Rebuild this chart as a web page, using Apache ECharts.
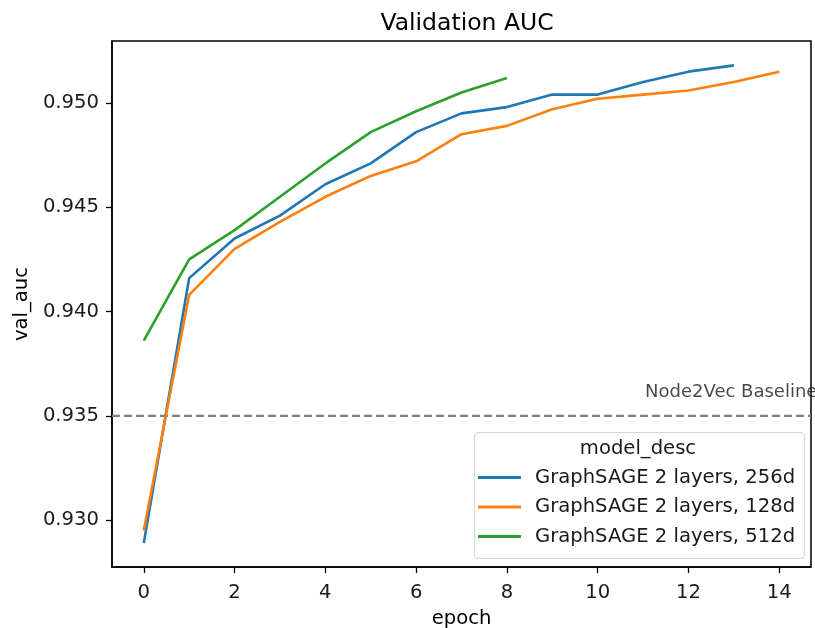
<!DOCTYPE html>
<html>
<head>
<meta charset="utf-8">
<script src="https://cdn.jsdelivr.net/npm/echarts@6/dist/echarts.min.js"></script>
<style>
  html, body { margin: 0; padding: 0; background: #fff; }
  #chart { width: 815px; height: 628px; }
</style>
</head>
<body>
<div id="chart"></div>
<script>
// Validation AUC per epoch for three GraphSAGE embedding sizes
const epochs = [0, 1, 2, 3, 4, 5, 6, 7, 8, 9, 10, 11, 12, 13, 14];
const auc256 = [0.9289, 0.9416, 0.9435, 0.9446, 0.9461, 0.9471, 0.9486, 0.9495, 0.9498, 0.9504, 0.9504, 0.9510, 0.9515, 0.9518];
const auc128 = [0.9295, 0.9408, 0.9430, 0.9443, 0.9455, 0.9465, 0.9472, 0.9485, 0.9489, 0.9497, 0.9502, 0.9504, 0.9506, 0.9510, 0.9515];
const auc512 = [0.9386, 0.9425, 0.9439, 0.9455, 0.9471, 0.9486, 0.9496, 0.9505, 0.9512];
const seriesNames = ['GraphSAGE 2 layers, 256d', 'GraphSAGE 2 layers, 128d', 'GraphSAGE 2 layers, 512d'];
const xTicks = [0, 2, 4, 6, 8, 10, 12, 14];
const yTicks = [0.930, 0.935, 0.940, 0.945, 0.950];
const baselineAuc = 0.935;
const baselineLabel = 'Node2Vec Baseline';
const baselineLabelEpoch = 11;
const legendTitle = 'model_desc';

const FONT = 'DejaVu Sans';
const FS = 19.6;
const colors = ['#1f77b4', '#ff7f0e', '#2ca02c'];

function pairs(values) {
  return values.map((v, i) => [epochs[i], v]);
}

const chart = echarts.init(document.getElementById('chart'), null, { renderer: 'canvas' });

const lineSeries = [auc256, auc128, auc512].map((vals, i) => ({
  name: seriesNames[i],
  type: 'line',
  data: pairs(vals),
  showSymbol: false,
  symbol: 'none',
  lineStyle: { color: colors[i], width: 2.6 },
  itemStyle: { color: colors[i] },
  z: 3
}));

chart.setOption({
  animation: false,
  backgroundColor: '#fff',
  textStyle: { fontFamily: FONT },
  title: {
    text: 'Validation AUC',
    left: 462,
    top: 7,
    textAlign: 'center',
    textStyle: { fontFamily: FONT, fontSize: 23.5, fontWeight: 'normal', color: '#000' }
  },
  grid: {
    left: 112, right: 4, top: 41, bottom: 61,
    show: true, borderColor: '#000', borderWidth: 1.5,
    containLabel: false,
    outerBoundsMode: 'none'
  },
  xAxis: {
    type: 'value',
    min: -0.7, max: 14.7,
    name: 'epoch',
    nameLocation: 'middle',
    nameGap: 42,
    nameTextStyle: { fontFamily: FONT, fontSize: FS, color: '#000' },
    axisLine: { show: true, onZero: false, lineStyle: { color: '#000', width: 1.5 } },
    axisTick: { show: true, length: 6, lineStyle: { color: '#000', width: 1.3 }, customValues: xTicks },
    axisLabel: { customValues: xTicks, margin: 16, fontFamily: FONT, fontSize: FS, color: '#1a1a1a' },
    splitLine: { show: false }
  },
  yAxis: {
    type: 'value',
    min: 0.92775, max: 0.95297,
    name: 'val_auc',
    nameLocation: 'middle',
    nameRotate: 90,
    nameGap: 73,
    nameTextStyle: { fontFamily: FONT, fontSize: FS, color: '#000' },
    axisLine: { show: true, onZero: false, lineStyle: { color: '#000', width: 1.5 } },
    axisTick: { show: true, length: 6, lineStyle: { color: '#000', width: 1.3 }, customValues: yTicks },
    axisLabel: {
      customValues: yTicks, margin: 13, fontFamily: FONT, fontSize: FS, color: '#1a1a1a',
      formatter: v => v.toFixed(3)
    },
    splitLine: { show: false }
  },
  legend: {
    data: seriesNames,
    orient: 'vertical',
    left: 478,
    top: 467,
    icon: 'rect',
    itemWidth: 43,
    itemHeight: 3,
    itemGap: 8.5,
    padding: 0,
    textStyle: { fontFamily: FONT, fontSize: FS, color: '#1a1a1a', lineHeight: 21, padding: [0, 0, 0, 9] },
    z: 6
  },
  graphic: [
    {
      type: 'rect',
      shape: { x: 474.5, y: 432.5, width: 330, height: 126, r: 4 },
      style: { fill: 'rgba(255,255,255,0.8)', stroke: '#d6d6d6', lineWidth: 1.2 },
      z: 5
    },
    {
      type: 'text',
      x: 638, y: 449,
      style: {
        text: legendTitle, fontFamily: FONT, fontSize: FS, fill: '#1a1a1a',
        textAlign: 'center', textVerticalAlign: 'middle'
      },
      z: 6
    }
  ],
  series: [
    ...lineSeries,
    {
      name: 'baseline',
      type: 'line',
      data: [[-0.7, baselineAuc], [14.7, baselineAuc]],
      symbol: 'none',
      lineStyle: { color: '#808080', width: 2.2, type: [8, 4] },
      silent: true,
      z: 2
    },
    {
      name: 'baseline-label',
      type: 'scatter',
      data: [[baselineLabelEpoch, baselineAuc]],
      symbolSize: 0,
      silent: true,
      clip: false,
      label: {
        show: true,
        formatter: baselineLabel,
        position: 'right',
        distance: 2,
        offset: [0, -23],
        fontFamily: FONT,
        fontSize: 18,
        color: '#1a1a1a'
      },
      z: 4
    }
  ]
});
</script>
</body>
</html>
